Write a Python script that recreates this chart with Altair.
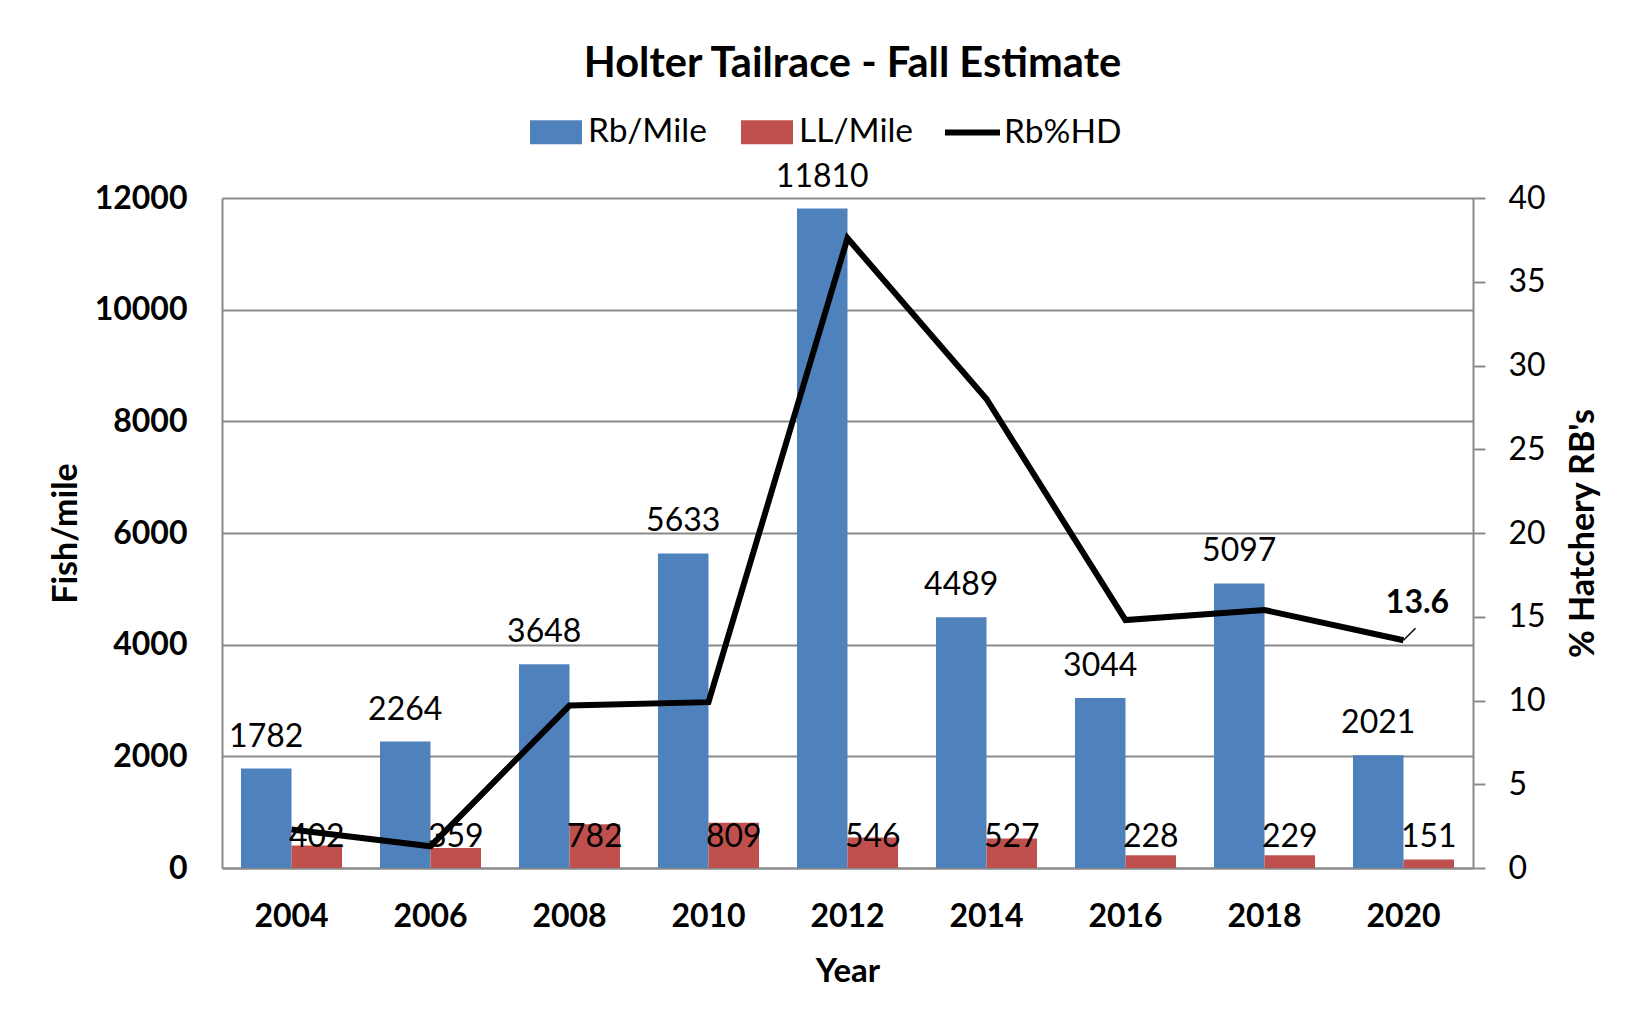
import altair as alt
import pandas as pd

# ---- data ----
years = ["2004", "2006", "2008", "2010", "2012", "2014", "2016", "2018", "2020"]
rb_per_mile = [1782, 2264, 3648, 5633, 11810, 4489, 3044, 5097, 2021]
ll_per_mile = [402, 359, 782, 809, 546, 527, 228, 229, 151]
rb_pct_hd = [2.3, 1.3, 9.7, 9.9, 37.6, 28.0, 14.8, 15.4, 13.6]
bar_series = ["Rb/Mile", "LL/Mile"]
line_series = "Rb%HD"
bar_colors = ["#4F81BD", "#C0504D"]
left_ticks = [0, 2000, 4000, 6000, 8000, 10000, 12000]
right_ticks = [0, 5, 10, 15, 20, 25, 30, 35, 40]
labeled_year = years[-1]

bars_df = pd.DataFrame({
    "year": years * 2,
    "series": [bar_series[0]] * len(years) + [bar_series[1]] * len(years),
    "value": rb_per_mile + ll_per_mile,
})
line_df = pd.DataFrame({"year": years, "pct": rb_pct_hd, "series": line_series})

FONT = "Lato"
GRID = "#8a8a8a"

x_enc = alt.X(
    "year:N", sort=years,
    scale=alt.Scale(paddingInner=0.273, paddingOuter=0.1365),
    axis=alt.Axis(title="Year", labelAngle=0, labelFontWeight="bold", labelFontSize=32,
                  labelPadding=33, ticks=False, domainColor=GRID, domainWidth=2,
                  labelColor="black", titleColor="black",
                  titleFontSize=33, titleFontWeight="bold", titlePadding=23),
)
xoff = alt.XOffset("series:N", sort=bar_series,
                   scale=alt.Scale(domain=bar_series, paddingInner=0, paddingOuter=0))

y_left = alt.Y(
    "value:Q", scale=alt.Scale(domain=[0, 12000]),
    axis=alt.Axis(orient="left", title="Fish/mile", values=left_ticks, format="d",
                  grid=True, gridColor=GRID, gridWidth=2, ticks=False,
                  domainColor=GRID, domainWidth=2,
                  labelFontSize=32, labelFontWeight="bold", labelPadding=35, labelColor="black",
                  titleFontSize=34, titleFontWeight="bold", titleColor="black",
                  titleAngle=270, titleBaseline="alphabetic", titleAlign="center",
                  titleX=-146, titleY=335),
)
y_right = alt.Y(
    "pct:Q", scale=alt.Scale(domain=[0, 40]),
    axis=alt.Axis(orient="right", title="% Hatchery RB's", values=right_ticks, format="d",
                  grid=False, tickSize=12, tickColor=GRID, tickWidth=2,
                  domainColor=GRID, domainWidth=2,
                  labelFontSize=32, labelPadding=23, labelColor="black",
                  titleFontSize=34, titleFontWeight="bold", titleColor="black",
                  titleAngle=270, titleBaseline="alphabetic", titleAlign="center",
                  titleX=120, titleY=335),
)

bars = alt.Chart(bars_df).mark_bar().encode(
    x=x_enc, xOffset=xoff, y=y_left,
    fill=alt.Fill("series:N", sort=bar_series,
                  scale=alt.Scale(domain=bar_series, range=bar_colors),
                  legend=alt.Legend(title=None, orient="none", legendX=308, legendY=-92,
                                    direction="horizontal", padding=0,
                                    symbolType="M-1,-0.46H1V0.46H-1Z", symbolSize=2704,
                                    symbolStrokeWidth=0, symbolOpacity=1,
                                    labelFontSize=33.5, labelOffset=6, columnPadding=34,
                                    labelColor="black")),
)

rb_text = alt.Chart(bars_df).transform_filter(
    alt.datum.series == bar_series[0]
).mark_text(baseline="alphabetic", dy=-22, fontSize=32, color="black").encode(
    x=x_enc, xOffset=xoff, y=y_left, text=alt.Text("value:Q", format="d"),
)

ll_text = alt.Chart(bars_df).transform_filter(
    alt.datum.series == bar_series[1]
).mark_text(baseline="alphabetic", fontSize=32, color="black").encode(
    x=x_enc, xOffset=xoff, y=alt.value(649), text=alt.Text("value:Q", format="d"),
)

line = alt.Chart(line_df).mark_line(strokeWidth=6).encode(
    x=x_enc, y=y_right,
    stroke=alt.Stroke("series:N", scale=alt.Scale(domain=[line_series], range=["black"]),
                      legend=alt.Legend(title=None, orient="none", legendX=720, legendY=-96,
                                        padding=0, symbolType="stroke", symbolSize=3025,
                                        symbolStrokeWidth=6, labelFontSize=33.5, labelOffset=1,
                                        labelColor="black")),
)

pct_label = alt.Chart(line_df).transform_filter(
    alt.datum.year == labeled_year
).mark_text(baseline="alphabetic", dx=14, dy=-27, fontSize=32, fontWeight="bold",
            color="black").encode(
    x=x_enc, y=y_right, text=alt.Text("pct:Q", format=".1f"),
)

leader = alt.Chart(line_df).transform_filter(
    alt.datum.year == labeled_year
).mark_point(shape="M0,0L1,-1", size=576, filled=False, strokeWidth=1.5,
             color="black", opacity=1).encode(
    x=x_enc, y=y_right,
)

left = alt.layer(bars, rb_text, ll_text)
right = alt.layer(line, leader, pct_label)

chart = alt.layer(left, right).resolve_scale(y="independent").properties(
    width=1251, height=670,
    padding={"left": 214, "top": 190, "right": 146, "bottom": 146},
    autosize=alt.AutoSizeParams(type="none"),
    background="white",
    title=alt.TitleParams(text="Holter Tailrace - Fall Estimate", fontSize=41.6,
                          fontWeight="bold", anchor="middle", offset=16, dx=5,
                          color="black"),
).configure(font=FONT).configure_view(stroke="transparent")

chart.save("out.html", embed_options={"renderer": "svg", "actions": False})
